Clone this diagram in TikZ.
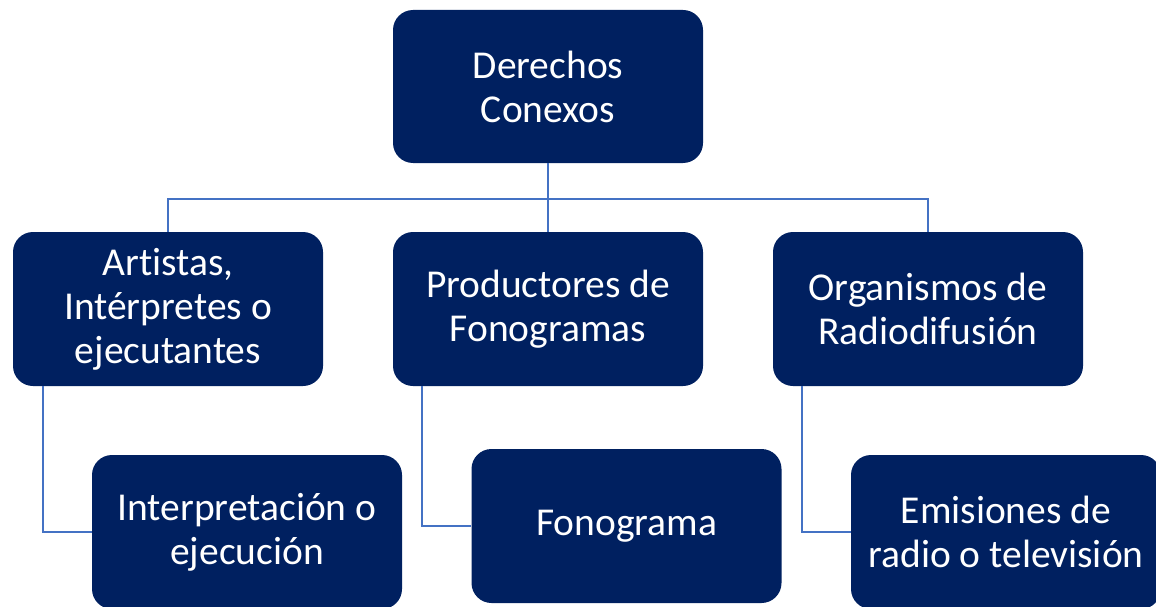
\documentclass[tikz,border=0pt]{standalone}
\usepackage{fontspec}
\setmainfont[Ligatures=NoCommon]{Carlito}
\usepackage{tikz}

\definecolor{navy}{HTML}{002060}
\definecolor{linkblue}{HTML}{4472C4}

\begin{document}
\begin{tikzpicture}[x=1pt, y=-1pt,
        box/.style={shape=rectangle, rounded corners=20pt, fill=navy, text=white,
            minimum width=310pt, minimum height=154pt, align=center,
            font=\fontsize{39.5}{44}\selectfont},
        link/.style={draw=linkblue, line width=2.5pt}]
        \useasboundingbox (0,0) rectangle (1156,607);

        \node[box, minimum height=153pt] (root) at (548, 86.5) {Derechos\\Conexos};

        \node[box] (art) at (168, 309) {Artistas,\\Intérpretes o\\ejecutantes};
        \node[box] (prod) at (548, 309) {Productores de\\Fonogramas};
        \node[box] (org) at (928, 309) {Organismos de\\Radiodifusión};

        \node[box] (interp) at (247, 532) {Interpretación o\\ejecución};
        \node[box] (fono) at (626.5, 526) {Fonograma};
        \node[box] (emis) at (1006, 532) {Emisiones de\\radio o televisión};

        \draw[link] (root) -- (prod);
        \draw[link] (art.north) -- ++(0,-33) -| (org.north);

        \draw[link] ([xshift=30pt]art.south west) |- (interp.west);
        \draw[link] ([xshift=29pt]prod.south west) |- (fono.west);
        \draw[link] ([xshift=29pt]org.south west) |- (emis.west);
    \end{tikzpicture}
\end{document}
